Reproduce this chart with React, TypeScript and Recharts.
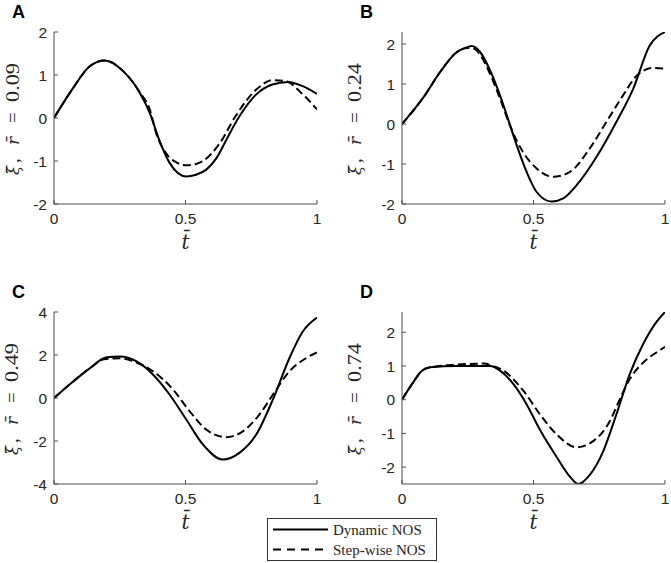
import React from 'react'
import { LineChart, Line, XAxis, YAxis } from 'recharts'

// panel A, r = 0.09
const tDynA = [0, 0.073, 0.137, 0.193, 0.263, 0.326, 0.364, 0.4, 0.44, 0.503, 0.54, 0.579, 0.617, 0.655, 0.705, 0.769, 0.83, 0.889, 0.946, 1]
const vDynA = [0, 0.7, 1.21, 1.34, 1.09, 0.59, 0.12, -0.51, -1.05, -1.36, -1.32, -1.2, -0.94, -0.51, 0.04, 0.55, 0.78, 0.84, 0.74, 0.56]
const tStepA = [0, 0.073, 0.137, 0.193, 0.263, 0.326, 0.364, 0.39, 0.427, 0.465, 0.503, 0.54, 0.566, 0.63, 0.69, 0.769, 0.832, 0.88, 0.946, 1]
const vStepA = [0, 0.7, 1.21, 1.34, 1.09, 0.6, 0.2, -0.38, -0.83, -1.03, -1.1, -1.07, -1.0, -0.59, 0.04, 0.66, 0.88, 0.86, 0.55, 0.2]

// panel B, r = 0.24
const tDynB = [0, 0.082, 0.145, 0.209, 0.24, 0.265, 0.297, 0.335, 0.373, 0.405, 0.436, 0.474, 0.512, 0.569, 0.613, 0.664, 0.74, 0.815, 0.879, 0.942, 1]
const vDynB = [0, 0.67, 1.3, 1.8, 1.9, 1.95, 1.8, 1.34, 0.71, 0.09, -0.53, -1.2, -1.7, -1.94, -1.86, -1.53, -0.82, 0.05, 0.88, 1.96, 2.3]
const tStepB = [0, 0.082, 0.145, 0.209, 0.25, 0.275, 0.3, 0.335, 0.373, 0.41, 0.46, 0.512, 0.575, 0.638, 0.714, 0.777, 0.84, 0.891, 0.93, 0.954, 1]
const vStepB = [0, 0.67, 1.3, 1.8, 1.9, 1.88, 1.7, 1.25, 0.63, -0.03, -0.7, -1.11, -1.32, -1.2, -0.61, 0.05, 0.71, 1.2, 1.37, 1.4, 1.38]

// panel C, r = 0.49
const tDynC = [0, 0.073, 0.137, 0.2, 0.25, 0.314, 0.377, 0.44, 0.503, 0.566, 0.642, 0.705, 0.769, 0.832, 0.895, 0.946, 1]
const vDynC = [0, 0.77, 1.39, 1.89, 1.93, 1.7, 1.08, 0.15, -1.0, -2.16, -2.86, -2.55, -1.7, -0.08, 1.85, 3.09, 3.74]
const tStepC = [0, 0.073, 0.137, 0.19, 0.25, 0.314, 0.377, 0.453, 0.516, 0.579, 0.655, 0.718, 0.781, 0.832, 0.895, 0.958, 1]
const vStepC = [0, 0.77, 1.39, 1.8, 1.85, 1.65, 1.24, 0.39, -0.62, -1.47, -1.82, -1.55, -0.77, 0.15, 1.24, 1.85, 2.12]

// panel D, r = 0.74
const tDynD = [0, 0.038, 0.076, 0.107, 0.209, 0.335, 0.373, 0.424, 0.474, 0.525, 0.588, 0.638, 0.67, 0.714, 0.765, 0.815, 0.866, 0.917, 0.967, 1]
const vDynD = [0, 0.46, 0.86, 0.96, 1.0, 1.0, 0.86, 0.46, -0.14, -0.9, -1.7, -2.28, -2.5, -2.23, -1.53, -0.44, 0.76, 1.65, 2.3, 2.6]
const tStepD = [0, 0.038, 0.076, 0.107, 0.209, 0.31, 0.345, 0.386, 0.462, 0.525, 0.588, 0.664, 0.727, 0.79, 0.828, 0.866, 0.917, 0.967, 1]
const vStepD = [0, 0.46, 0.86, 0.96, 1.04, 1.07, 1.0, 0.86, 0.26, -0.44, -1.03, -1.41, -1.23, -0.64, 0.01, 0.61, 1.1, 1.4, 1.57]

const xTicks = [0, 0.5, 1]
const yTicksAB = [-2, -1, 0, 1, 2]
const yTicksC = [-4, -2, 0, 2, 4]
const yTicksD = [-2, -1, 0, 1, 2]
const rValues = ['0.09', '0.24', '0.49', '0.74']
const legendNames = ['Dynamic NOS', 'Step-wise NOS']

const zip = (ts: number[], vs: number[]) => ts.map((t, i) => ({ t, v: vs[i] }))

const BOX = '#4d4d4d'
const TXT = '#262626'
const SANS = '"Liberation Sans", Arial, sans-serif'
const SERIF = '"Liberation Serif", "DejaVu Serif", serif'
const ITAL = '"DejaVu Serif", "Liberation Serif", serif'
const XM = 9
const YM = 7
const TL = 4

const fmt = (v: number) => String(v)

const BottomTick = (p: any) => (
  <g>
    <line x1={p.x} x2={p.x} y1={p.y - XM} y2={p.y - XM - TL} stroke={BOX} />
    <text x={p.x} y={p.y} dy="0.72em" textAnchor="middle" fontSize={15.5} fontFamily={SANS} fill={TXT}>
      {fmt(p.payload.value)}
    </text>
  </g>
)
const TopTick = (p: any) => <line x1={p.x} x2={p.x} y1={p.y} y2={p.y + TL} stroke={BOX} />
const LeftTick = (p: any) => (
  <g>
    <line x1={p.x + YM} x2={p.x + YM + TL} y1={p.y} y2={p.y} stroke={BOX} />
    <text x={p.x} y={p.y} dy="0.36em" textAnchor="end" fontSize={15.5} fontFamily={SANS} fill={TXT}>
      {fmt(p.payload.value)}
    </text>
  </g>
)
const RightTick = (p: any) => <line x1={p.x} x2={p.x - TL} y1={p.y} y2={p.y} stroke={BOX} />

interface PanelProps {
  left: number
  top: number
  dyn: { t: number; v: number }[]
  step: { t: number; v: number }[]
  domain: [number, number]
  ticks: number[]
}

function Panel({ left, top, dyn, step, domain, ticks }: PanelProps) {
  return (
    <div style={{ position: 'absolute', left, top, width: 335, height: 262 }}>
      <LineChart width={335} height={262} margin={{ top: 32, right: 18, left: 14, bottom: 18 }}>
        <XAxis
          xAxisId="b"
          type="number"
          dataKey="t"
          domain={[0, 1]}
          ticks={xTicks}
          allowDataOverflow
          height={40}
          tickSize={0}
          tickMargin={XM}
          tick={<BottomTick />}
          axisLine={{ stroke: BOX }}
        />
        <XAxis
          xAxisId="top"
          orientation="top"
          type="number"
          dataKey="t"
          domain={[0, 1]}
          ticks={xTicks}
          allowDataOverflow
          height={0}
          tickSize={0}
          tickMargin={0}
          tick={<TopTick />}
          axisLine={{ stroke: BOX }}
        />
        <YAxis
          yAxisId="l"
          type="number"
          domain={domain}
          ticks={ticks}
          allowDataOverflow
          width={40}
          tickSize={0}
          tickMargin={YM}
          tick={<LeftTick />}
          axisLine={{ stroke: BOX }}
        />
        <YAxis
          yAxisId="r"
          orientation="right"
          type="number"
          domain={domain}
          ticks={ticks}
          allowDataOverflow
          width={0}
          tickSize={0}
          tickMargin={0}
          tick={<RightTick />}
          axisLine={{ stroke: BOX }}
        />
        <Line
          xAxisId="b"
          yAxisId="l"
          data={step}
          dataKey="v"
          type="monotone"
          stroke="#000"
          strokeWidth={2}
          strokeDasharray="8 4"
          dot={false}
          activeDot={false}
          isAnimationActive={false}
        />
        <Line
          xAxisId="b"
          yAxisId="l"
          data={dyn}
          dataKey="v"
          type="monotone"
          stroke="#000"
          strokeWidth={2}
          dot={false}
          activeDot={false}
          isAnimationActive={false}
        />
      </LineChart>
    </div>
  )
}

const panels = [
  { left: 0, top: 0, dyn: zip(tDynA, vDynA), step: zip(tStepA, vStepA), domain: [-2, 2] as [number, number], ticks: yTicksAB },
  { left: 348, top: 0, dyn: zip(tDynB, vDynB), step: zip(tStepB, vStepB), domain: [-2, 2.3] as [number, number], ticks: yTicksAB },
  { left: 0, top: 280, dyn: zip(tDynC, vDynC), step: zip(tStepC, vStepC), domain: [-4, 4] as [number, number], ticks: yTicksC },
  { left: 348, top: 280, dyn: zip(tDynD, vDynD), step: zip(tStepD, vStepD), domain: [-2.5, 2.6] as [number, number], ticks: yTicksD },
]

const letters = ['A', 'B', 'C', 'D']
const labelX = [19, 361, 18, 361]

function YLabel({ x, y, r }: { x: number; y: number; r: string }) {
  // reads bottom to top, baseline at x, starting at y
  return (
    <g transform={`translate(${x},${y}) rotate(-90)`} fill={TXT}>
      <text x={0} y={0} fontFamily={ITAL} fontStyle="italic" fontSize={17}>
        {'\u03BE\u0304'}
      </text>
      <text x={12} y={0} fontFamily={SERIF} fontSize={19}>
        ,
      </text>
      <text x={30} y={0} fontFamily={ITAL} fontStyle="italic" fontSize={17}>
        {'r\u0304'}
      </text>
      <text x={52} y={0} fontFamily={SERIF} fontSize={19}>
        =
      </text>
      <text x={73} y={0} fontFamily={SERIF} fontSize={19} textLength={39} lengthAdjust="spacingAndGlyphs">
        {r}
      </text>
    </g>
  )
}

export default function App() {
  return (
    <div style={{ position: 'absolute', left: 0, top: 0, width: 671, height: 563, background: '#fff' }}>
      {panels.map((p, i) => (
        <Panel key={i} {...p} />
      ))}
      <svg width={671} height={563} style={{ position: 'absolute', left: 0, top: 0, pointerEvents: 'none' }}>
        {panels.map((p, i) => (
          <g key={i}>
            <text x={p.left + 12} y={p.top + 18} fontFamily={SANS} fontWeight="bold" fontSize={18} fill="#000">
              {letters[i]}
            </text>
            <YLabel x={labelX[i]} y={p.top + 175} r={rValues[i]} />
            <text x={p.left + 185.5} y={p.top + 249} textAnchor="middle" fontFamily={ITAL} fontStyle="italic" fontSize={20} fill={TXT}>
              {'t\u0304'}
            </text>
          </g>
        ))}
      </svg>
      <div
        style={{
          position: 'absolute',
          left: 267,
          top: 518,
          width: 170,
          height: 43,
          boxSizing: 'border-box',
          border: '1px solid #333',
          background: '#fff',
        }}
      >
        <svg width={168} height={41} style={{ display: 'block' }}>
          <line x1={5} x2={60} y1={10.5} y2={10.5} stroke="#000" strokeWidth={2} />
          <line x1={5} x2={60} y1={30.5} y2={30.5} stroke="#000" strokeWidth={2} strokeDasharray="8 6" />
          {legendNames.map((n, i) => (
            <text key={n} x={65} y={15.5 + i * 20} fontFamily='"Liberation Serif", serif' fontSize={15} fill={TXT}>
              {n}
            </text>
          ))}
        </svg>
      </div>
    </div>
  )
}
